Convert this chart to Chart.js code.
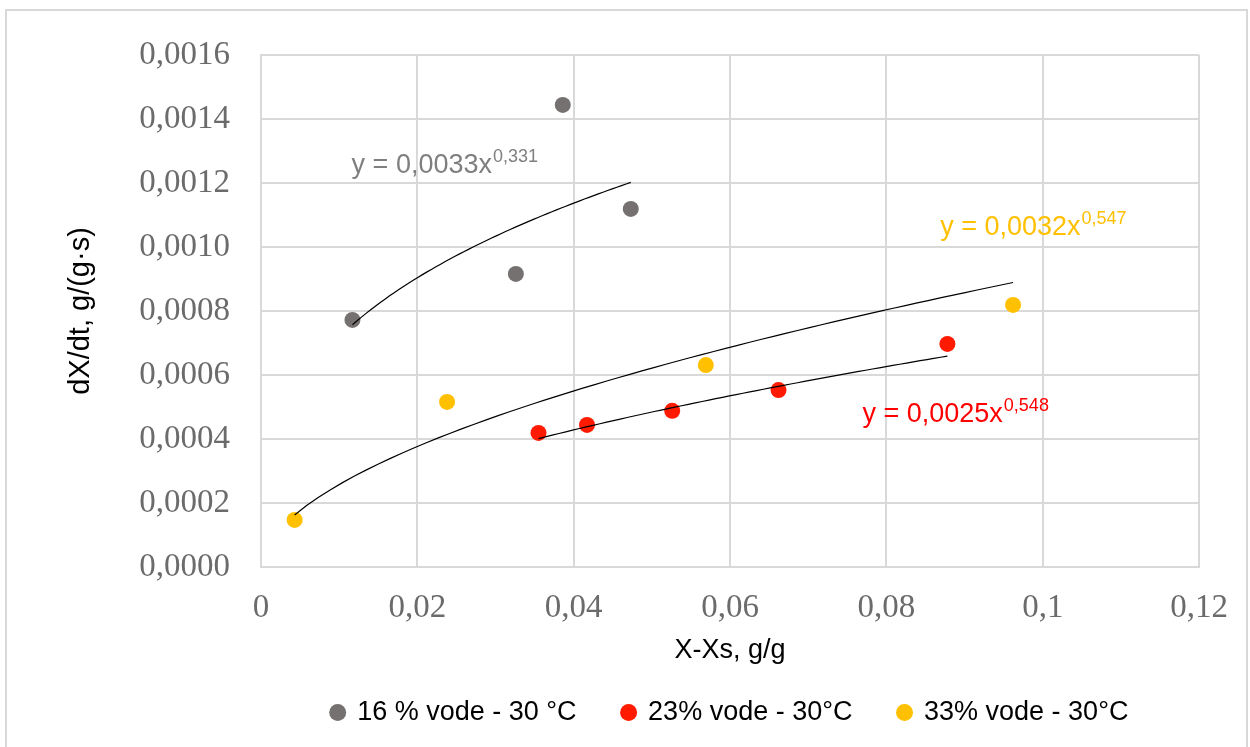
<!DOCTYPE html>
<html>
<head>
<meta charset="utf-8">
<script src="https://cdn.jsdelivr.net/npm/chart.js@4"></script>
<style>
  html, body { margin: 0; padding: 0; background: #fff; }
  #frame { position: absolute; left: 5px; top: 9px; width: 1243px; height: 760px; border: 2px solid #d9d9d9; box-sizing: border-box; }
  #chart { position: absolute; left: 0; top: 0; }
</style>
</head>
<body>
<div id="frame"></div>
<canvas id="chart" width="1250" height="747"></canvas>
<script>
// values
const seriesLabels = ['16 % vode - 30 °C', '23% vode - 30°C', '33% vode - 30°C'];
const seriesColors = ['#767171', '#ff1a00', '#ffc000'];

const x16 = [0.0117, 0.0326, 0.0386, 0.0473];
const y16 = [0.000772, 0.000916, 0.001444, 0.001119];

const x23 = [0.0355, 0.0417, 0.0526, 0.0662, 0.0878];
const y23 = [0.000419, 0.000444, 0.000488, 0.000553, 0.000697];

const x33 = [0.0043, 0.0238, 0.0569, 0.0962];
const y33 = [0.000147, 0.000516, 0.000631, 0.000819];

// power trendlines y = a * x^b as printed on the chart
const trendA = [0.0033, 0.0025, 0.0032];
const trendB = [0.331, 0.548, 0.547];
const trendText = ['y = 0,0033x', 'y = 0,0025x', 'y = 0,0032x'];
const trendExp = ['0,331', '0,548', '0,547'];
const trendTextColors = ['#7f7f7f', '#ff0000', '#ffc000'];

const xTickLabels = ['0', '0,02', '0,04', '0,06', '0,08', '0,1', '0,12'];
const yTickLabels = ['0,0000', '0,0002', '0,0004', '0,0006', '0,0008', '0,0010', '0,0012', '0,0014', '0,0016'];

// where the equations sit, in axis units (left edge, baseline)
const eqAnchors = [
  { x: 0.01159, y: 0.001231 },
  { x: 0.07694, y: 0.000453 },
  { x: 0.08688, y: 0.0010375 }
];

const xs = [x16, x23, x33];
const ys = [y16, y23, y33];

function toPoints(xv, yv) {
  return xv.map((x, i) => ({ x: x, y: yv[i] }));
}

// sample the fitted curve between the first and last x of a series
function powerTrend(a, b, xv) {
  const lo = Math.min(...xv), hi = Math.max(...xv);
  const pts = [];
  const n = 60;
  for (let i = 0; i <= n; i++) {
    const x = lo + (hi - lo) * i / n;
    pts.push({ x: x, y: a * Math.pow(x, b) });
  }
  return pts;
}

const datasets = [];
for (let s = 0; s < 3; s++) {
  datasets.push({
    type: 'scatter',
    label: seriesLabels[s],
    data: toPoints(xs[s], ys[s]),
    backgroundColor: seriesColors[s],
    borderColor: seriesColors[s],
    borderWidth: 0,
    pointRadius: 8,
    order: 1
  });
}
for (let s = 0; s < 3; s++) {
  datasets.push({
    type: 'line',
    label: 'trend',
    data: powerTrend(trendA[s], trendB[s], xs[s]),
    borderColor: '#000',
    borderWidth: 1.2,
    pointRadius: 0,
    fill: false,
    tension: 0,
    order: 0
  });
}

// equations with superscript exponent
const equationPlugin = {
  id: 'equations',
  afterDatasetsDraw(chart) {
    const ctx = chart.ctx;
    const xScale = chart.scales.x, yScale = chart.scales.y;
    ctx.save();
    ctx.textBaseline = 'alphabetic';
    ctx.textAlign = 'left';
    for (let i = 0; i < 3; i++) {
      const px = xScale.getPixelForValue(eqAnchors[i].x);
      const py = yScale.getPixelForValue(eqAnchors[i].y);
      ctx.fillStyle = trendTextColors[i];
      ctx.font = '27px "Liberation Sans", Arial, sans-serif';
      ctx.fillText(trendText[i], px, py);
      const w = ctx.measureText(trendText[i]).width;
      ctx.font = '18px "Liberation Sans", Arial, sans-serif';
      ctx.fillText(trendExp[i], px + w + 1, py - 11);
    }
    ctx.restore();
  }
};

// fixed legend height so the layout lines up with the picture
const legendHeightPlugin = {
  id: 'legendHeight',
  beforeLayout(chart) {
    const legend = chart.legend;
    if (legend && !legend._fixed) {
      const fit = legend.fit;
      legend.fit = function () {
        fit.call(this);
        this.height = 94;
      };
      legend._fixed = true;
    }
  }
};

new Chart(document.getElementById('chart'), {
  data: { datasets: datasets },
  options: {
    responsive: false,
    animation: false,
    layout: { padding: { top: 55, right: 47, left: 0, bottom: 0 } },
    scales: {
      x: {
        type: 'linear',
        min: 0,
        max: 0.12,
        afterFit: (scale) => { scale.height = 86; },
        ticks: {
          stepSize: 0.02,
          padding: 22,
          color: '#6b6b6b',
          font: { family: '"Liberation Serif", "Times New Roman", serif', size: 33 },
          callback: (value, index) => xTickLabels[index]
        },
        grid: { color: '#d9d9d9', lineWidth: 2, drawTicks: false },
        border: { color: '#d9d9d9', width: 2 },
        title: {
          display: true,
          text: 'X-Xs, g/g',
          color: '#000',
          padding: { top: 0, bottom: -14 },
          font: { family: '"Liberation Sans", Arial, sans-serif', size: 27 }
        }
      },
      y: {
        type: 'linear',
        min: 0,
        max: 0.0016,
        afterFit: (scale) => { scale.width = 261; },
        ticks: {
          stepSize: 0.0002,
          padding: 31,
          color: '#6b6b6b',
          font: { family: '"Liberation Serif", "Times New Roman", serif', size: 33 },
          callback: (value, index) => yTickLabels[index]
        },
        grid: { color: '#d9d9d9', lineWidth: 2, drawTicks: false },
        border: { color: '#d9d9d9', width: 2 },
        title: {
          display: true,
          text: 'dX/dt, g/(g·s)',
          color: '#000',
          padding: { top: 64, bottom: 0 },
          font: { family: '"Liberation Sans", Arial, sans-serif', size: 29 }
        }
      }
    },
    plugins: {
      legend: {
        position: 'bottom',
        fullSize: false,
        labels: {
          usePointStyle: true,
          pointStyle: 'circle',
          boxWidth: 12,
          boxHeight: 12,
          padding: 46,
          color: '#000',
          font: { family: '"Liberation Sans", Arial, sans-serif', size: 27 },
          filter: (item) => item.datasetIndex < 3
        }
      },
      tooltip: { enabled: false }
    }
  },
  plugins: [equationPlugin, legendHeightPlugin]
});
</script>
</body>
</html>
